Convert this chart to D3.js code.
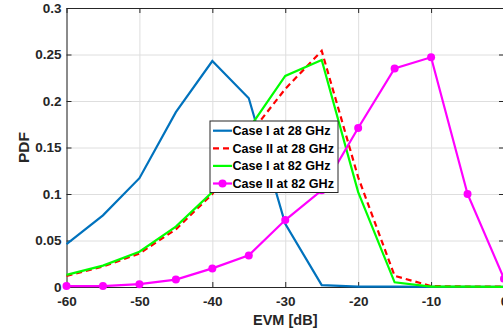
<!DOCTYPE html>
<html lang="en">
<head>
    <meta charset="UTF-8">
    <script src="https://d3js.org/d3.v7.min.js"></script>
    <title>EVM PDF</title>
    <style>
        body { margin: 0; background: #fff; }
        text { font-family: "Liberation Sans", Arial, sans-serif; font-weight: bold; }
    </style>
</head>
<body>
    <script>
        // EVM bins (dB)
        var evm = [-60, -55, -50, -45, -40, -35, -30, -25, -20, -15, -10, -5, 0];
        var case1_28 = [0.046, 0.077, 0.117, 0.188, 0.243, 0.203, 0.068, 0.002, 0.0005, 0.0003, 0.0002, 0.0001, 0.0001];
        var case2_28 = [0.012, 0.022, 0.036, 0.062, 0.100, 0.163, 0.213, 0.254, 0.118, 0.012, 0.001, 0.0005, 0.0003];
        var case1_82 = [0.013, 0.023, 0.038, 0.065, 0.102, 0.170, 0.227, 0.244, 0.102, 0.005, 0.0005, 0.0003, 0.0002];
        var case2_82 = [0.001, 0.001, 0.003, 0.008, 0.020, 0.034, 0.072, 0.104, 0.171, 0.235, 0.247, 0.100, 0.009];
        var xTicks = [-60, -50, -40, -30, -20, -10, 0];
        var yTicks = [0, 0.05, 0.1, 0.15, 0.2, 0.25, 0.3];
        var seriesNames = ['Case I at 28 GHz', 'Case II at 28 GHz', 'Case I at 82 GHz', 'Case II at 82 GHz'];

        var width = 503, height = 330;
        var mLeft = 66.5, mTop = 8, mRight = 504, mBottom = 287;

        var x = d3.scaleLinear().domain([-60, 0]).range([mLeft, mRight]);
        var y = d3.scaleLinear().domain([0, 0.3]).range([mBottom, mTop]);

        var svg = d3.select('body').append('svg')
            .attr('width', width)
            .attr('height', height);

        // grid
        svg.append('g')
            .attr('transform', 'translate(0,' + mBottom + ')')
            .call(d3.axisBottom(x).tickValues(xTicks).tickSize(-(mBottom - mTop)).tickFormat(''))
            .call(function(g) {
                g.select('.domain').remove();
                g.selectAll('line').attr('stroke', '#dedede').attr('stroke-width', 1);
            });
        svg.append('g')
            .attr('transform', 'translate(' + mLeft + ',0)')
            .call(d3.axisLeft(y).tickValues(yTicks).tickSize(-(mRight - mLeft)).tickFormat(''))
            .call(function(g) {
                g.select('.domain').remove();
                g.selectAll('line').attr('stroke', '#dedede').attr('stroke-width', 1);
            });

        // box + axes
        function styleAxis(g) {
            g.select('.domain').attr('stroke', '#262626').attr('stroke-width', 1);
            g.selectAll('.tick line').attr('stroke', '#262626');
            g.selectAll('text').attr('fill', '#262626').style('font-size', '13.5px').style('font-family', '"Liberation Sans", Arial, sans-serif').style('font-weight', 'bold');
        }
        svg.append('g')
            .attr('transform', 'translate(0,' + mBottom + ')')
            .call(d3.axisBottom(x).tickValues(xTicks).tickSizeInner(-5).tickSizeOuter(0).tickPadding(9).tickFormat(function(d) { return String(d); }))
            .call(styleAxis);
        svg.append('g')
            .attr('transform', 'translate(0,' + mTop + ')')
            .call(d3.axisTop(x).tickValues(xTicks).tickSizeInner(-5).tickSizeOuter(0).tickFormat(''))
            .call(styleAxis);
        svg.append('g')
            .attr('transform', 'translate(' + mLeft + ',0)')
            .call(d3.axisLeft(y).tickValues(yTicks).tickSizeInner(-5).tickSizeOuter(0).tickPadding(5).tickFormat(function(d) { return String(+d.toFixed(2)); }))
            .call(styleAxis);
        svg.append('g')
            .attr('transform', 'translate(' + mRight + ',0)')
            .call(d3.axisRight(y).tickValues(yTicks).tickSizeInner(-5).tickSizeOuter(0).tickFormat(''))
            .call(styleAxis);

        // axis labels
        svg.append('text')
            .attr('x', (mLeft + mRight) / 2)
            .attr('y', 324.5)
            .attr('text-anchor', 'middle')
            .attr('fill', '#262626')
            .style('font-size', '14.5px')
            .text('EVM [dB]');
        svg.append('text')
            .attr('transform', 'translate(29,' + ((mTop + mBottom) / 2) + ') rotate(-90)')
            .attr('text-anchor', 'middle')
            .attr('fill', '#262626')
            .style('font-size', '15.5px')
            .text('PDF');

        // series
        var series = [
            { name: seriesNames[0], values: case1_28, color: '#0072BD', dash: null, marker: false },
            { name: seriesNames[1], values: case2_28, color: '#FF0000', dash: '6,4', marker: false },
            { name: seriesNames[2], values: case1_82, color: '#00FF00', dash: null, marker: false },
            { name: seriesNames[3], values: case2_82, color: '#FF00FF', dash: null, marker: true }
        ];

        var line = d3.line()
            .x(function(d, i) { return x(evm[i]); })
            .y(function(d) { return y(d); });

        var plot = svg.append('g');
        series.forEach(function(s) {
            plot.append('path')
                .datum(s.values)
                .attr('fill', 'none')
                .attr('stroke', s.color)
                .attr('stroke-width', 2.2)
                .attr('stroke-dasharray', s.dash)
                .attr('d', line);
            if (s.marker) {
                plot.selectAll('circle.m')
                    .data(s.values)
                    .enter().append('circle')
                    .attr('class', 'm')
                    .attr('cx', function(d, i) { return x(evm[i]); })
                    .attr('cy', function(d) { return y(d); })
                    .attr('r', 4)
                    .attr('fill', s.color);
            }
        });

        // legend
        var lg = svg.append('g').attr('transform', 'translate(210,121)');
        lg.append('rect')
            .attr('width', 128)
            .attr('height', 71.5)
            .attr('fill', '#fff')
            .attr('stroke', '#262626')
            .attr('stroke-width', 1);
        series.forEach(function(s, i) {
            var row = lg.append('g').attr('transform', 'translate(0,' + (9.7 + i * 17.6) + ')');
            row.append('line')
                .attr('x1', 3).attr('x2', 22)
                .attr('stroke', s.color)
                .attr('stroke-width', 2.2)
                .attr('stroke-dasharray', s.dash);
            if (s.marker) {
                row.append('circle').attr('cx', 12.5).attr('r', 4).attr('fill', s.color);
            }
            row.append('text')
                .attr('x', 22.5)
                .attr('dy', '0.36em')
                .attr('fill', '#000')
                .style('font-size', '12.6px')
                .text(s.name);
        });
    </script>
</body>
</html>
